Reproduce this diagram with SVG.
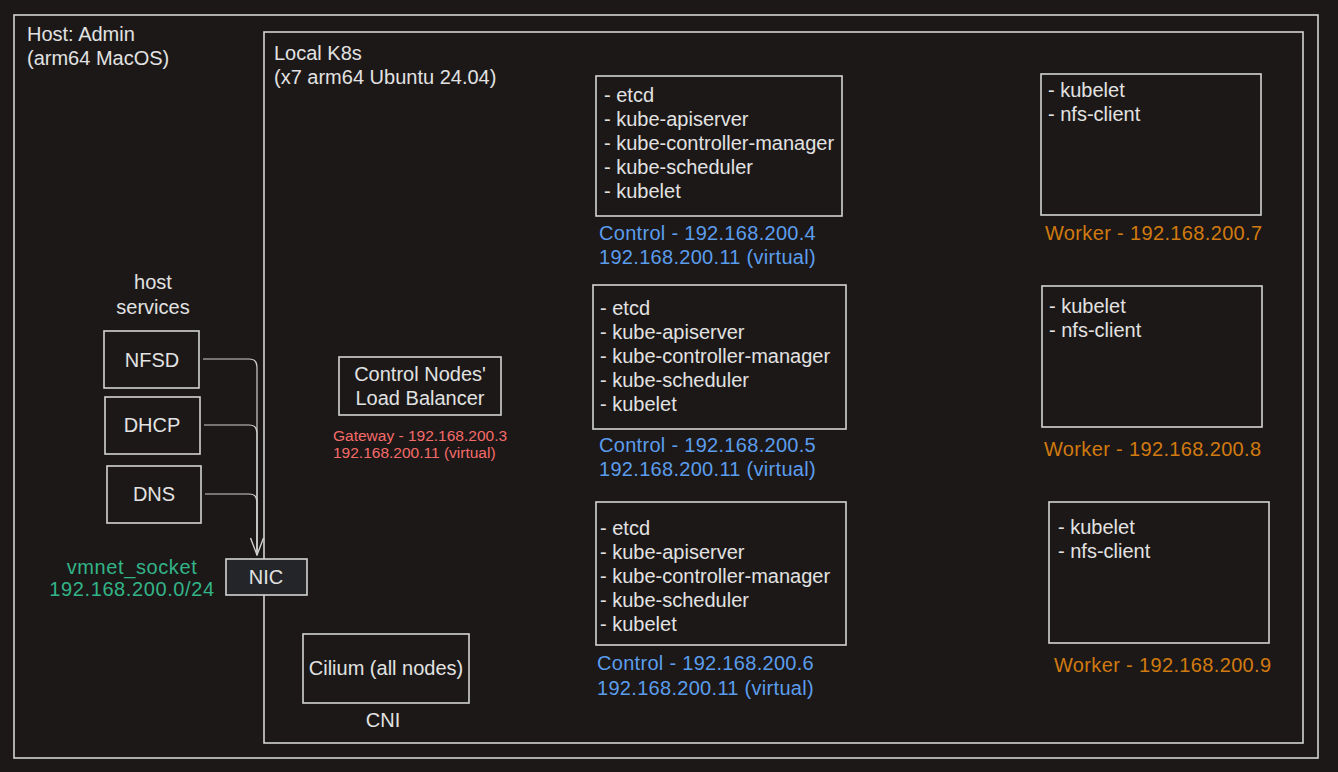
<svg xmlns="http://www.w3.org/2000/svg" width="1338" height="772" viewBox="0 0 1338 772">
<style>
text{font-family:"Liberation Sans",Arial,sans-serif;font-size:20px;fill:#e2e2e2}
.box{fill:none;stroke:#d4d4d4;stroke-width:1.6}
.nic{fill:#232529;stroke:#d4d4d4;stroke-width:1.6}
.blue{fill:#5b9ded;letter-spacing:0.3px}
.orange{fill:#d17a10;letter-spacing:0.35px}
.green{fill:#32b488;letter-spacing:0.6px}
.red{fill:#f56b69;font-size:15.5px}
.mid{text-anchor:middle}
.conn{fill:none;stroke:#cfcfcf;stroke-width:1.2}
</style>
<defs>
<marker id="arr" viewBox="0 0 20 20" refX="19" refY="10" markerWidth="20" markerHeight="20" markerUnits="userSpaceOnUse" orient="auto">
<path d="M2 3.5 L19 10 L2 16.5" fill="none" stroke="#cfcfcf" stroke-width="1.4"/>
</marker>
</defs>
<rect width="1338" height="772" fill="#1c1817"/>

<g id="host-frame">
<rect class="box" x="14" y="15" width="1304" height="743"/>
<text x="27" y="41">Host: Admin</text>
<text x="27" y="65">(arm64 MacOS)</text>
</g>

<g id="k8s-frame">
<rect class="box" x="264" y="32" width="1039" height="711"/>
<text x="274" y="60">Local K8s</text>
<text x="274" y="84">(x7 arm64 Ubuntu 24.04)</text>
</g>

<g id="host-services-label">
<text class="mid" x="153" y="289">host</text>
<text class="mid" x="153" y="314">services</text>
</g>

<g id="connectors">
<path class="conn" d="M203 359 H249 Q257 359 257 367 V555" marker-end="url(#arr)"/>
<path class="conn" d="M204 425 H249 Q257 425 257 433 V555"/>
<path class="conn" d="M205 494 H249 Q257 494 257 502 V555"/>
</g>

<g id="nfsd">
<rect class="box" x="104" y="331" width="95" height="57"/>
<text class="mid" x="152" y="367">NFSD</text>
</g>
<g id="dhcp">
<rect class="box" x="105" y="397" width="95" height="57"/>
<text class="mid" x="152" y="432">DHCP</text>
</g>
<g id="dns">
<rect class="box" x="107" y="466" width="94" height="57"/>
<text class="mid" x="154" y="501">DNS</text>
</g>

<g id="nic">
<rect class="nic" x="226" y="559" width="81" height="36"/>
<text class="mid" x="266" y="584">NIC</text>
</g>
<g id="vmnet">
<text class="mid green" x="132" y="574">vmnet_socket</text>
<text class="mid green" x="132" y="596">192.168.200.0/24</text>
</g>

<g id="load-balancer">
<rect class="box" x="339" y="357" width="162" height="58"/>
<text class="mid" x="420" y="381">Control Nodes'</text>
<text class="mid" x="420" y="405">Load Balancer</text>
<text class="red" x="333" y="441">Gateway - 192.168.200.3</text>
<text class="red" x="333" y="458">192.168.200.11 (virtual)</text>
</g>

<g id="cilium">
<rect class="box" x="303" y="634" width="166" height="69"/>
<text class="mid" x="386" y="675">Cilium (all nodes)</text>
<text class="mid" x="383" y="727">CNI</text>
</g>

<g id="control-1">
<rect class="box" x="596" y="76" width="246" height="140"/>
<text x="604" y="102">- etcd</text>
<text x="604" y="126">- kube-apiserver</text>
<text x="604" y="150">- kube-controller-manager</text>
<text x="604" y="174">- kube-scheduler</text>
<text x="604" y="198">- kubelet</text>
<text class="blue" x="599" y="240">Control - 192.168.200.4</text>
<text class="blue" x="599" y="264">192.168.200.11 (virtual)</text>
</g>

<g id="control-2">
<rect class="box" x="593" y="285" width="253" height="144"/>
<text x="600" y="315">- etcd</text>
<text x="600" y="339">- kube-apiserver</text>
<text x="600" y="363">- kube-controller-manager</text>
<text x="600" y="387">- kube-scheduler</text>
<text x="600" y="411">- kubelet</text>
<text class="blue" x="599" y="452">Control - 192.168.200.5</text>
<text class="blue" x="599" y="476">192.168.200.11 (virtual)</text>
</g>

<g id="control-3">
<rect class="box" x="596" y="502" width="250" height="143"/>
<text x="600" y="535">- etcd</text>
<text x="600" y="559">- kube-apiserver</text>
<text x="600" y="583">- kube-controller-manager</text>
<text x="600" y="607">- kube-scheduler</text>
<text x="600" y="631">- kubelet</text>
<text class="blue" x="597" y="670">Control - 192.168.200.6</text>
<text class="blue" x="597" y="695">192.168.200.11 (virtual)</text>
</g>

<g id="worker-1">
<rect class="box" x="1041" y="74" width="220" height="141"/>
<text x="1048" y="97">- kubelet</text>
<text x="1048" y="121">- nfs-client</text>
<text class="orange" x="1045" y="240">Worker - 192.168.200.7</text>
</g>

<g id="worker-2">
<rect class="box" x="1042" y="286" width="220" height="141"/>
<text x="1049" y="313">- kubelet</text>
<text x="1049" y="337">- nfs-client</text>
<text class="orange" x="1044" y="456">Worker - 192.168.200.8</text>
</g>

<g id="worker-3">
<rect class="box" x="1049" y="502" width="220" height="141"/>
<text x="1058" y="534">- kubelet</text>
<text x="1058" y="558">- nfs-client</text>
<text class="orange" x="1054" y="672">Worker - 192.168.200.9</text>
</g>
</svg>
